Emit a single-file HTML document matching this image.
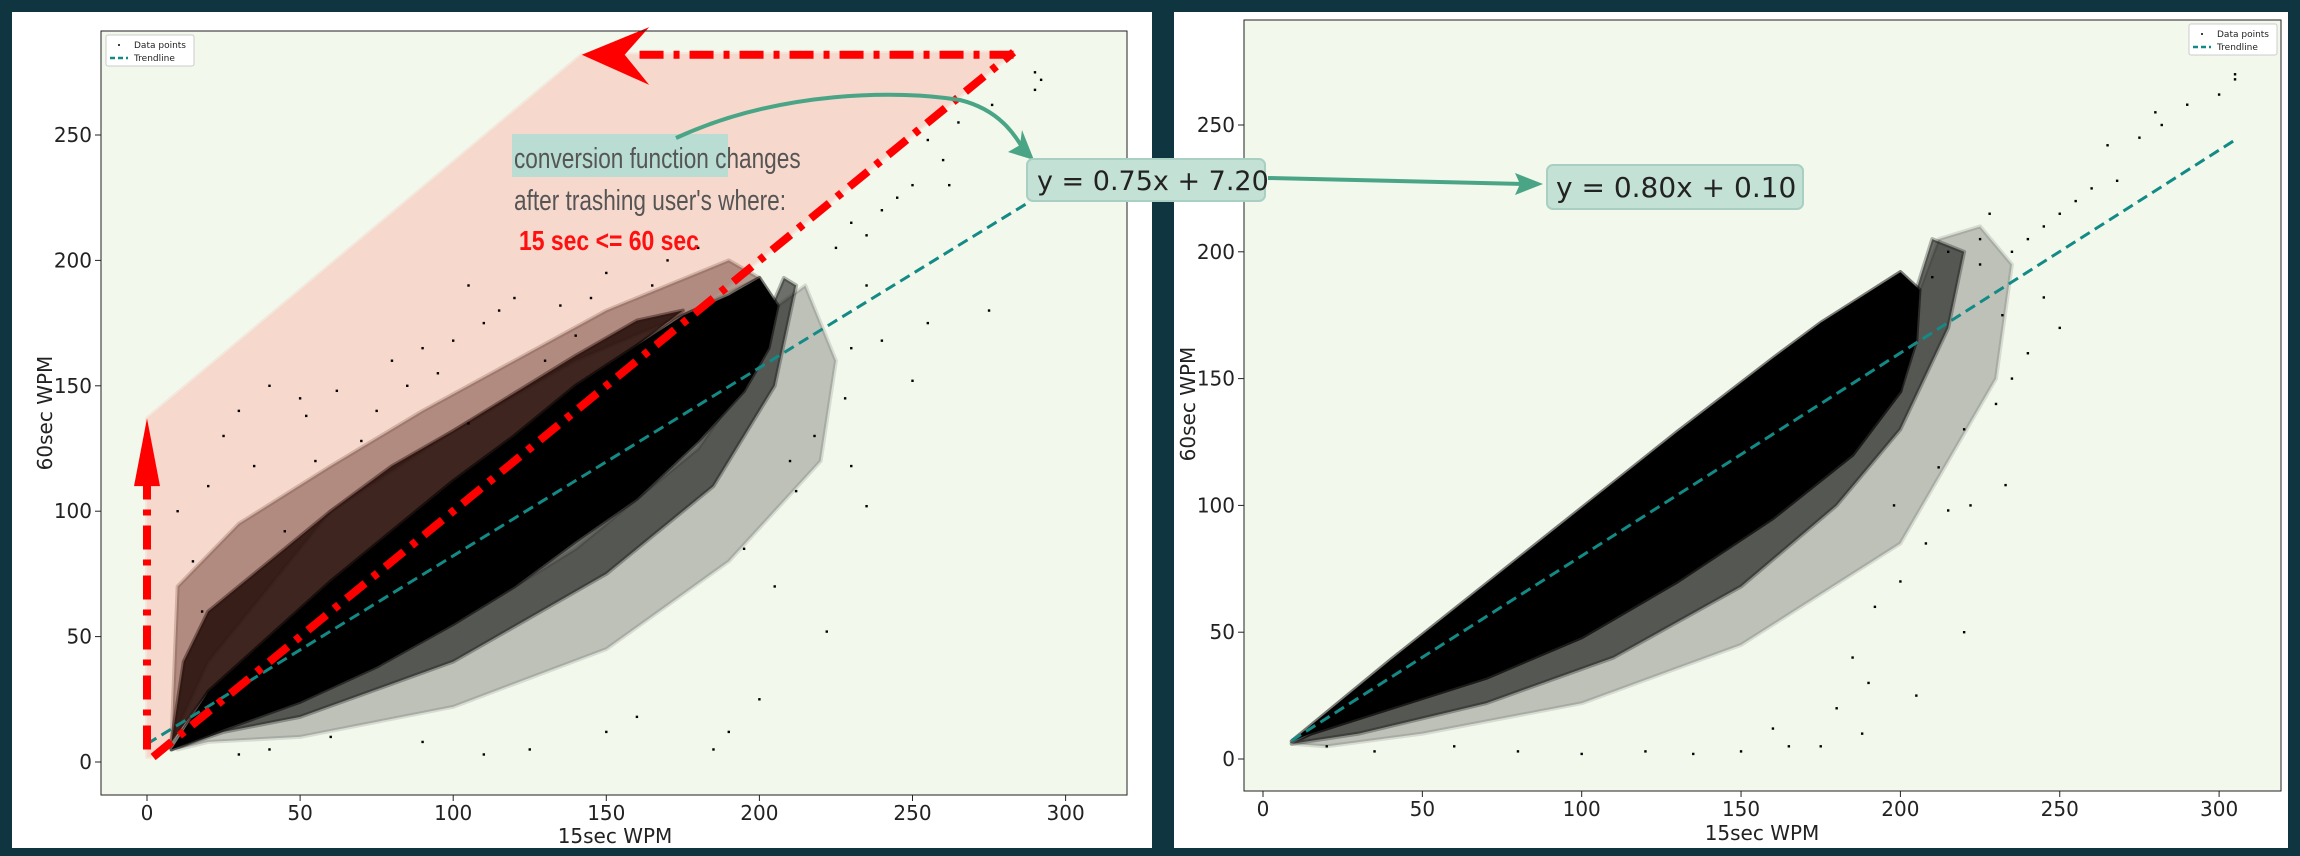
<!DOCTYPE html>
<html><head><meta charset="utf-8"><style>
html,body{margin:0;padding:0;background:#0e3540;}
svg{display:block;}
text{font-family:"DejaVu Sans","Liberation Sans",sans-serif;}
</style></head><body>
<svg id="s" width="2300" height="856" xmlns="http://www.w3.org/2000/svg">
<rect x="0" y="0" width="2300" height="856" fill="#0e3540"/>
<rect x="12" y="12" width="1140" height="836" fill="#ffffff"/>
<rect x="1174" y="12" width="1114" height="836" fill="#ffffff"/>
<g id="L"></g>
<g id="R"></g>
<g id="A"></g>
</svg>
<script>
// ---- data ----
const xTicks=[0,50,100,150,200,250,300];
const yTicks=[0,50,100,150,200,250];
const leftSlope=0.75, leftIntercept=7.20, leftTrendX=[0,288];
const rightSlope=0.80, rightIntercept=0.10, rightTrendX=[9,305];
const leftCoreX=[8,20,40,60,80,100,120,140,160,175,190,200,206,203,195,180,160,140,120,100,75,50,25,10];
const leftCoreY=[5,28,50,72,92,112,130,150,166,178,186,193,182,165,148,128,105,88,70,55,38,24,13,6];
const leftMidX=[8,25,50,100,150,185,205,212,208,200,180,150,100,50,20];
const leftMidY=[5,12,18,40,75,110,150,190,193,170,135,100,58,26,12];
const leftHaloX=[8,12,20,40,60,80,100,120,140,160,175,160,140,120,100,80,60,40,20];
const leftHaloY=[8,40,60,80,100,118,132,147,162,176,180,166,150,130,112,92,72,50,28];
const leftOuterX=[8,10,30,60,90,120,150,190,200,175,140,100,60,20];
const leftOuterY=[8,70,95,118,140,160,180,200,193,178,160,132,100,40];
const leftLowX=[10,20,50,100,150,190,220,225,215,206,200,180,140,100,50,20];
const leftLowY=[5,8,10,22,45,80,120,160,190,182,160,125,85,55,24,13];
const rightCoreX=[9,40,70,100,130,160,175,190,200,206,205,200,185,160,130,100,70,40,15];
const rightCoreY=[7,39,69,99,129,158,172,184,192,185,165,145,120,95,70,48,32,20,10];
const rightMidX=[9,30,70,110,150,180,200,215,220,210,205,200,185,160,130,100,70,40,15];
const rightMidY=[6,10,22,40,68,100,130,170,200,205,185,145,120,95,70,48,32,20,10];
const rightLowX=[9,20,50,100,150,200,230,235,225,212,206,200,185,160,130,100,70,40,15];
const rightLowY=[6,5,10,22,45,85,150,195,210,205,185,145,120,95,70,48,32,20,10];
const leftDotsX=[290,290,292,276,265,255,260,250,245,240,235,230,225,255,275,262,235,230,240,250,228,218,210,230,235,212,222,205,195,200,190,185,160,150,125,110,90,60,40,30,25,18,15,10,20,25,30,40,50,62,80,100,105,130,140,105,52,120,85,115,145,90,70,35,170,180,165,45,55,75,95,110,135,150];
const leftDotsY=[275,268,272,262,255,248,240,230,225,220,210,215,205,175,180,230,190,165,168,152,145,130,120,118,102,108,52,70,85,25,12,5,18,12,5,3,8,10,5,3,30,60,80,100,110,130,140,150,145,148,160,168,135,160,170,190,138,185,150,180,185,165,128,118,200,205,190,92,120,140,155,175,182,195];
const rightDotsX=[305,305,300,290,280,282,275,265,268,260,255,250,245,240,235,228,225,245,250,232,240,235,230,220,222,233,212,215,208,200,220,205,188,175,165,150,135,120,100,80,60,35,20,190,180,160,215,225,210,198,192,185];
const rightDotsY=[270,268,262,258,255,250,245,242,228,225,220,215,210,205,200,215,195,182,170,175,160,150,140,130,100,108,115,98,85,70,50,25,10,5,5,3,2,3,2,3,5,3,5,30,20,12,200,205,190,100,60,40];
const pinkX=[0,0,142,283,1];
const pinkY=[2,137,282,283,2];

const NS="http://www.w3.org/2000/svg";
function mk(tag,attrs,parent){const e=document.createElementNS(NS,tag);for(const k in attrs)e.setAttribute(k,attrs[k]);parent.appendChild(e);return e;}

function chart(g,cfg){
  const sx=v=>cfg.x0+v*cfg.kx, sy=v=>cfg.y0-v*cfg.ky;
  const bg=mk('rect',{x:cfg.l,y:cfg.t,width:cfg.r-cfg.l,height:cfg.b-cfg.t,fill:'#f2f8ec'},g);
  
  
  const poly=(xs,ys,fill,op,name)=>{const p=mk('polygon',{points:xs.map((x,i)=>sx(x)+','+sy(ys[i])).join(' '),fill:fill,'fill-opacity':op,'stroke':fill,'stroke-opacity':op*0.5,'stroke-width':4,'stroke-linejoin':'round'},g);
    
    return p;};
  cfg.layers(poly,sx,sy);
  const dg=mk('g',{},g);
  
  
  cfg.dx.forEach((x,i)=>{const d=mk('rect',{x:sx(x)-1.2,y:sy(cfg.dy[i])-1.2,width:2.4,height:2.4,fill:'#000'},dg);
    
    });
  const t=mk('line',{x1:sx(cfg.tx[0]),y1:sy(cfg.m*cfg.tx[0]+cfg.c),x2:sx(cfg.tx[1]),y2:sy(cfg.m*cfg.tx[1]+cfg.c),stroke:'#138a85','stroke-width':3,'stroke-dasharray':'11 6'},g);
  
  
  if(cfg.after)cfg.after(sx,sy);
  const fr=mk('rect',{x:cfg.l,y:cfg.t,width:cfg.r-cfg.l,height:cfg.b-cfg.t,fill:'none',stroke:'#222','stroke-width':1},g);
  
  
  xTicks.forEach(v=>{mk('line',{x1:sx(v),x2:sx(v),y1:cfg.b,y2:cfg.b+6,stroke:'#222'},g);
    const tx=mk('text',{x:sx(v),y:cfg.b+25,'font-size':20,'text-anchor':'middle',fill:'#222'},g);tx.textContent=v;
    
    });
  yTicks.forEach(v=>{mk('line',{x1:cfg.l-6,x2:cfg.l,y1:sy(v),y2:sy(v),stroke:'#222'},g);
    const tx=mk('text',{x:cfg.l-9,y:sy(v)+7,'font-size':20,'text-anchor':'end',fill:'#222'},g);tx.textContent=v;
    
    });
  const xl=mk('text',{x:cfg.xlx,y:cfg.xly,'font-size':20,'text-anchor':'middle',fill:'#222'},g);xl.textContent='15sec WPM';
  
  
  const yl=mk('text',{x:0,y:0,'font-size':20,'text-anchor':'middle',fill:'#222',transform:`translate(${cfg.ylx},${cfg.yly}) rotate(-90)`},g);yl.textContent='60sec WPM';
  
  
  const lg=mk('g',{},g);
  
  
  mk('rect',{x:cfg.lgx,y:cfg.lgy,width:88,height:31,fill:'#fff',stroke:'#ccc',rx:2},lg);
  mk('circle',{cx:cfg.lgx+13,cy:cfg.lgy+10,r:1,fill:'#000'},lg);
  let a=mk('text',{x:cfg.lgx+28,y:cfg.lgy+13,'font-size':9,fill:'#222'},lg);a.textContent='Data points';
  
  
  mk('line',{x1:cfg.lgx+4,x2:cfg.lgx+22,y1:cfg.lgy+23,y2:cfg.lgy+23,stroke:'#138a85','stroke-width':2.5,'stroke-dasharray':'5 3'},lg);
  a=mk('text',{x:cfg.lgx+28,y:cfg.lgy+26,'font-size':9,fill:'#222'},lg);a.textContent='Trendline';
  
  
}

chart(document.getElementById('L'),{l:101,r:1127,t:31,b:795,x0:147,kx:3.062,y0:762,ky:2.508,
  m:leftSlope,c:leftIntercept,tx:leftTrendX,dx:leftDotsX,dy:leftDotsY,
  xlx:615,xly:843,ylx:52,yly:413,lgx:106,lgy:35,
  layers:(poly)=>{
    poly(pinkX,pinkY,'#f6d8cc',1,'highlight-region');
    poly(leftLowX,leftLowY,'#000',0.22,'scatter-sparse-lower');
    poly(leftMidX,leftMidY,'#000',0.55,'scatter-medium-lower');
    poly(leftOuterX,leftOuterY,'#6b3e34',0.5,'scatter-sparse-upper');
    poly(leftHaloX,leftHaloY,'#2a120d',0.9,'scatter-dense-upper');
    poly(leftCoreX,leftCoreY,'#000',1,'scatter-core');
  },
  after:(sx,sy)=>{
    const g=document.getElementById('L');
    const red={stroke:'#ff0000','stroke-width':8,fill:'none','stroke-dasharray':'24 10 6 10'};
    let p=mk('line',Object.assign({x1:sx(2),y1:sy(2),x2:sx(283),y2:sy(283)},red),g);
    
    
    p=mk('line',Object.assign({x1:sx(0),y1:sy(5),x2:sx(0),y2:sy(115)},red),g);
    
    
    mk('polygon',{points:`${sx(0)},${sy(137)} ${sx(0)-13},${sy(110)} ${sx(0)+13},${sy(110)}`,fill:'#ff0000'},g);
    p=mk('line',Object.assign({x1:sx(283),y1:sy(282),x2:sx(158),y2:sy(282)},red),g);
    
    
    mk('polygon',{points:`${sx(142)},${sy(282)} ${sx(164)},${sy(293)} ${sx(156)},${sy(282)} ${sx(164)},${sy(270)}`,fill:'#ff0000'},g);
  }});

chart(document.getElementById('R'),{l:1244,r:2281,t:20,b:791,x0:1263,kx:3.187,y0:759,ky:2.536,
  m:rightSlope,c:rightIntercept,tx:rightTrendX,dx:rightDotsX,dy:rightDotsY,
  xlx:1762,xly:840,ylx:1195,yly:404,lgx:2189,lgy:24,
  layers:(poly)=>{
    poly(rightLowX,rightLowY,'#000',0.22,'scatter-sparse-lower');
    poly(rightMidX,rightMidY,'#000',0.55,'scatter-medium-lower');
    poly(rightCoreX,rightCoreY,'#000',1,'scatter-core');
  }});

const A=document.getElementById('A');
let e=mk('rect',{x:512,y:134,width:216,height:43,fill:'#b9ddd2'},A);


const tf='font-family:"Liberation Sans Narrow","Liberation Sans",sans-serif;';
e=mk('text',{x:514,y:168,'font-size':29,fill:'#555',style:tf,transform:'translate(514,0) scale(0.78,1) translate(-514,0)'},A);
e.textContent='conversion function  changes';


e=mk('text',{x:514,y:210,'font-size':29,fill:'#555',style:tf,transform:'translate(514,0) scale(0.78,1) translate(-514,0)'},A);
e.textContent="after trashing user's where:";


e=mk('text',{x:519,y:250,'font-size':28,fill:'#ff1010','font-weight':'bold',style:tf,transform:'translate(519,0) scale(0.82,1) translate(-519,0)'},A);
e.textContent='15 sec <= 60 sec';


e=mk('path',{d:'M676,138 C780,90 900,90 960,100 C1000,110 1015,135 1025,152',stroke:'#4aa587','stroke-width':4,fill:'none'},A);


mk('polygon',{points:'1034,160 1008,152 1020,145 1022,130',fill:'#4aa587'},A);
e=mk('rect',{x:1027,y:159,width:238,height:42,rx:6,fill:'#c4e1d6',stroke:'#a8cfc2','stroke-width':2},A);


e=mk('text',{x:1037,y:190,'font-size':27,fill:'#222'},A);e.textContent='y = 0.75x + 7.20';


e=mk('line',{x1:1268,y1:178,x2:1524,y2:184,stroke:'#4aa587','stroke-width':4},A);


mk('polygon',{points:'1543,184 1515,173 1520,184 1515,195',fill:'#4aa587'},A);
e=mk('rect',{x:1547,y:165,width:256,height:44,rx:6,fill:'#c4e1d6',stroke:'#a8cfc2','stroke-width':2},A);


e=mk('text',{x:1556,y:197,'font-size':28,fill:'#222'},A);e.textContent='y = 0.80x + 0.10';


</script>
</body></html>
